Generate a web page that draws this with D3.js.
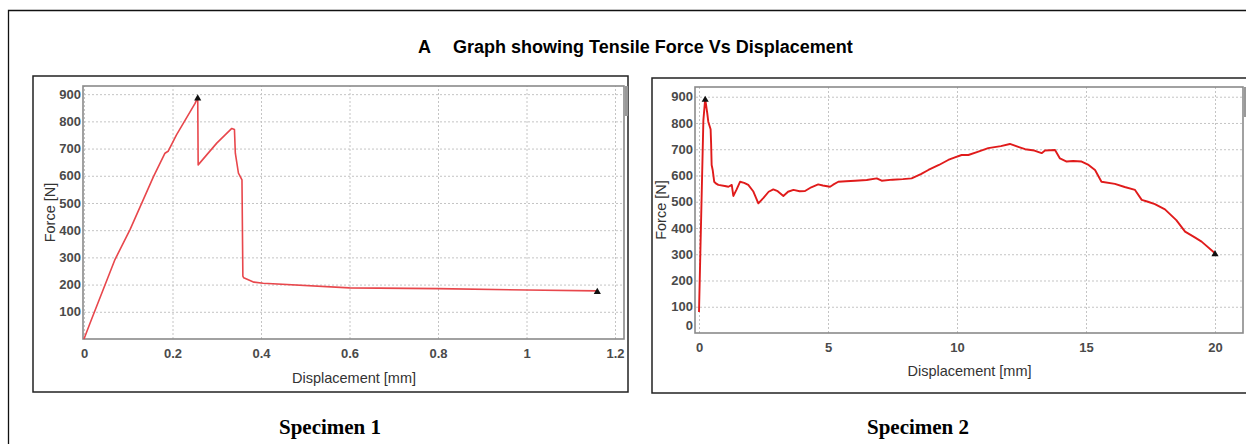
<!DOCTYPE html>
<html lang="en">
<head>
<meta charset="utf-8">
<title>Tensile Force Vs Displacement</title>
<script src="https://cdn.jsdelivr.net/npm/d3@7"></script>
<style>
    body { margin: 0; background: #fff; }
    .tick text { font-family: "Liberation Sans Narrow", "Liberation Sans", Arial, sans-serif; font-size: 13px; font-weight: bold; fill: #4a4a4a; }
    .axis-title { font-family: "Liberation Sans Narrow", "Liberation Sans", Arial, sans-serif; font-size: 14.5px; fill: #333; }
    .grid line { stroke: #c4c4c4; stroke-dasharray: 2,2; }
    .grid path { display: none; }
</style>
</head>
<body>
<script>
// Specimen 1
var spec1Disp  = [0, 0.014, 0.07, 0.104, 0.157, 0.183, 0.19, 0.209, 0.251, 0.257, 0.258, 0.30, 0.334, 0.34, 0.342, 0.349, 0.357, 0.359, 0.361, 0.384, 0.405, 0.6, 0.8, 1.0, 1.16];
var spec1Force = [0, 60, 292, 402, 597, 683, 690, 750, 866, 888, 640, 720, 774, 770, 683, 610, 585, 231, 225, 209, 205, 188, 185, 180, 177];
var spec1Marks = [0.257, 1.16];

// Specimen 2
var spec2Disp  = [0, 0.17, 0.24, 0.32, 0.36, 0.45, 0.47, 0.49, 0.53, 0.59, 0.65, 0.75, 1.0, 1.14, 1.27, 1.33, 1.45, 1.59, 1.75, 1.91, 2.1, 2.3, 2.5, 2.7, 2.88, 3.05, 3.27, 3.45, 3.66, 3.9, 4.11, 4.35, 4.62, 4.8, 5.08, 5.2, 5.4, 5.7, 6.05, 6.5, 6.89, 7.08, 7.5, 7.9, 8.24, 8.6, 8.89, 9.3, 9.66, 9.92, 10.18, 10.44, 10.8, 11.21, 11.7, 12.05, 12.4, 12.64, 13.0, 13.28, 13.41, 13.8, 13.99, 14.25, 14.5, 14.83, 15.1, 15.35, 15.6, 16.12, 16.5, 16.9, 17.16, 17.4, 17.67, 18.06, 18.5, 18.84, 19.2, 19.48, 20.0];
var spec2Force = [80, 811, 892, 837, 805, 776, 720, 640, 621, 576, 570, 564, 560, 557, 564, 522, 545, 576, 572, 564, 540, 494, 515, 538, 547, 540, 522, 538, 545, 540, 541, 555, 566, 562, 557, 565, 576, 578, 580, 583, 589, 580, 584, 586, 589, 605, 621, 640, 659, 669, 678, 678, 690, 704, 712, 720, 708, 700, 695, 685, 695, 697, 665, 653, 655, 653, 640, 621, 576, 568, 556, 545, 507, 500, 491, 471, 430, 386, 365, 348, 304];
var spec2Marks = [0.24, 20.0];

// tick labels
var xTicks1 = [0, 0.2, 0.4, 0.6, 0.8, 1, 1.2];
var yTicks1 = [100, 200, 300, 400, 500, 600, 700, 800, 900];
var xTicks2 = [0, 5, 10, 15, 20];
var yTicks2 = [0, 100, 200, 300, 400, 500, 600, 700, 800, 900];

var titleText = "Graph showing Tensile Force Vs Displacement";
var specimenLabels = ["Specimen 1", "Specimen 2"];

var svg = d3.select("body").append("svg")
    .attr("width", 1246)
    .attr("height", 444);

// outer frame (open on right and bottom)
svg.append("path")
    .attr("d", "M8.5,444 V10.5 H1246")
    .attr("fill", "none")
    .attr("stroke", "#111")
    .attr("stroke-width", 1.3);

// title
svg.append("text")
    .attr("x", 418).attr("y", 53)
    .style("font-family", "'Liberation Sans', Arial, sans-serif")
    .style("font-weight", "bold").style("font-size", "18px")
    .text("A");
svg.append("text")
    .attr("x", 453).attr("y", 53)
    .style("font-family", "'Liberation Sans', Arial, sans-serif")
    .style("font-weight", "bold").style("font-size", "18px")
    .text(titleText);

function drawPanel(cfg) {
    //panel box
    svg.append("rect")
        .attr("x", cfg.box[0]).attr("y", cfg.box[1])
        .attr("width", cfg.box[2]).attr("height", cfg.box[3])
        .attr("fill", "none").attr("stroke", "#222").attr("stroke-width", 1.5);

    var x = d3.scaleLinear().domain(cfg.xDomain).range([cfg.left, cfg.right]);
    var y = d3.scaleLinear().domain(cfg.yDomain).range([cfg.bottom, cfg.top]);

    //grid
    svg.append("g").attr("class", "grid")
        .attr("transform", "translate(0," + cfg.bottom + ")")
        .call(d3.axisBottom(x).tickValues(cfg.xTicks).tickSize(-(cfg.bottom - cfg.top)).tickFormat(""));
    svg.append("g").attr("class", "grid")
        .attr("transform", "translate(" + cfg.left + ",0)")
        .call(d3.axisLeft(y).tickValues(cfg.yTicks.filter(function(d) { return d > 0; }))
            .tickSize(-(cfg.right - cfg.left)).tickFormat(""));

    //axes labels
    var xAxis = svg.append("g")
        .attr("transform", "translate(0," + cfg.bottom + ")")
        .call(d3.axisBottom(x).tickValues(cfg.xTicks).tickSize(0).tickPadding(10).tickFormat(d3.format("~g")));
    xAxis.select(".domain").remove();

    var yAxis = svg.append("g")
        .attr("transform", "translate(" + cfg.left + ",0)")
        .call(d3.axisLeft(y).tickValues(cfg.yTicks).tickSize(0).tickPadding(3));
    yAxis.select(".domain").remove();
    yAxis.selectAll(".tick").filter(function(d) { return d === 0; })
        .select("text").attr("dy", "-0.28em");

    //plot frame
    svg.append("rect")
        .attr("x", cfg.left - 1).attr("y", cfg.top)
        .attr("width", cfg.right - cfg.left + 1).attr("height", cfg.bottom - cfg.top)
        .attr("fill", "none").attr("stroke", "#8a8a8a").attr("stroke-width", 1.6);

    //little scroll tab at top right
    svg.append("rect")
        .attr("x", cfg.right + 1).attr("y", cfg.top)
        .attr("width", 3).attr("height", 30)
        .attr("fill", "#999");

    //curve
    var pts = d3.zip(cfg.disp, cfg.force);
    var line = d3.line().x(function(d) { return x(d[0]); }).y(function(d) { return y(d[1]); });
    svg.append("path")
        .datum(pts)
        .attr("d", line)
        .attr("fill", "none")
        .attr("stroke", cfg.color)
        .attr("stroke-width", cfg.width)
        .attr("stroke-linejoin", "round");

    //markers
    svg.selectAll(null)
        .data(cfg.marks)
        .enter()
        .append("path")
        .attr("d", d3.symbol(d3.symbolTriangle, 22))
        .attr("transform", function(d) {
            var i = cfg.disp.indexOf(d);
            return "translate(" + x(d) + "," + (y(cfg.force[i]) + 1) + ")";
        })
        .attr("fill", "#111");

    //axis titles
    svg.append("text").attr("class", "axis-title")
        .attr("x", (cfg.left + cfg.right) / 2).attr("y", cfg.xTitleY)
        .attr("text-anchor", "middle")
        .text("Displacement [mm]");
    svg.append("text").attr("class", "axis-title")
        .attr("transform", "translate(" + cfg.yTitleX + "," + (cfg.top + cfg.bottom) / 2 + ") rotate(-90)")
        .attr("text-anchor", "middle")
        .text("Force [N]");

    //specimen caption
    svg.append("text")
        .attr("x", cfg.captionX).attr("y", 434)
        .attr("text-anchor", "middle")
        .style("font-family", "'Liberation Serif', 'Times New Roman', serif")
        .style("font-weight", "bold").style("font-size", "21px")
        .text(cfg.caption);
}

drawPanel({
    box: [33, 76, 595, 316],
    left: 84, right: 624, top: 86, bottom: 339,
    xDomain: [0, 1.2 * 540 / 531], yDomain: [0, 930],
    xTicks: xTicks1, yTicks: yTicks1,
    disp: spec1Disp, force: spec1Force, marks: spec1Marks,
    color: "#e8474c", width: 1.6,
    xTitleY: 383, yTitleX: 55,
    caption: specimenLabels[0], captionX: 330
});

drawPanel({
    box: [652, 78, 620, 315],
    left: 696, right: 1243, top: 87, bottom: 333,
    xDomain: [-3 / 25.8, (1243 - 699) / 25.8], yDomain: [0, 937],
    xTicks: xTicks2, yTicks: yTicks2,
    disp: spec2Disp, force: spec2Force, marks: spec2Marks,
    color: "#e01b1b", width: 1.9,
    xTitleY: 376, yTitleX: 666,
    caption: specimenLabels[1], captionX: 918
});
</script>
</body>
</html>
